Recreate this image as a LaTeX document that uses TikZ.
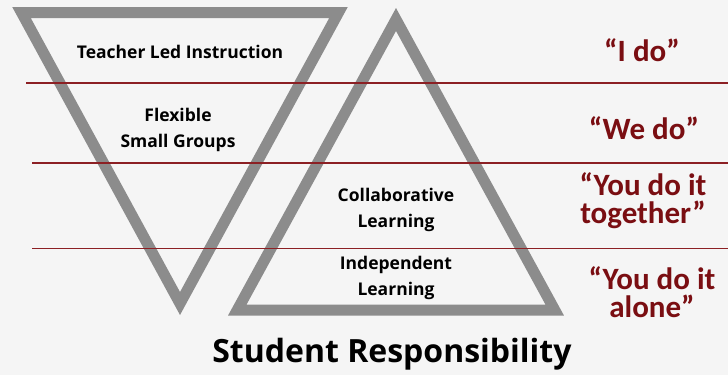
\documentclass[tikz,border=0pt]{standalone}
\usepackage{fontspec}
\setmainfont{Open Sans}
\newfontfamily\quotefont{Carlito}
\usetikzlibrary{positioning}

\definecolor{trigray}{RGB}{140,140,140}
\definecolor{rowred}{RGB}{140,32,36}
\definecolor{quotered}{RGB}{122,14,18}

\tikzset{
  tri/.style={draw=trigray, line width=11pt, line join=miter},
  rowline/.style={draw=rowred, line width=1.4pt},
  stage/.style={font=\fontsize{17.5}{26}\selectfont\bfseries, align=center, text=black},
  saying/.style={font=\quotefont\fontsize{31}{28}\selectfont\bfseries, align=center, text=quotered}
}

\begin{document}
\begin{tikzpicture}[x=1pt,y=-1pt]
  \fill[black!4] (0,0) rectangle (728,375);                   % background
  \useasboundingbox (0,0) rectangle (728,375);

  \draw[tri] (21.5,12.5) -- (338.5,12.5) -- (180,303.5) -- cycle;   % teacher triangle
  \draw[tri] (237.3,310) -- (554.7,310) -- (396,19.5) -- cycle;     % student triangle

  \draw[rowline] (26,83) -- (728,83);                         % row boundary
  \draw[rowline] (32,163) -- (728,163);                       % row boundary
  \draw[rowline] (32,248.5) -- (728,248.5);                   % row boundary

  \node[stage] (teacher) at (180,52) {Teacher Led Instruction};
  \node[stage] (groups) at (178,130) {Flexible\\Small Groups};
  \node[stage] (collab) at (396,210) {Collaborative\\Learning};
  \node[stage] (indep) at (396,278) {Independent\\Learning};

  \node[saying] (ido) at (642,50) {“I do”};
  \node[saying] (wedo) at (644,128) {“We do”};
  \node[saying] (together) at (643,201) {“You do it\\together”};
  \node[saying] (alone) at (652,292) {“You do it\\alone”};

  \node[font=\fontsize{32}{34}\selectfont\bfseries] (resp) at (392,354) {Student Responsibility};
\end{tikzpicture}
\end{document}
